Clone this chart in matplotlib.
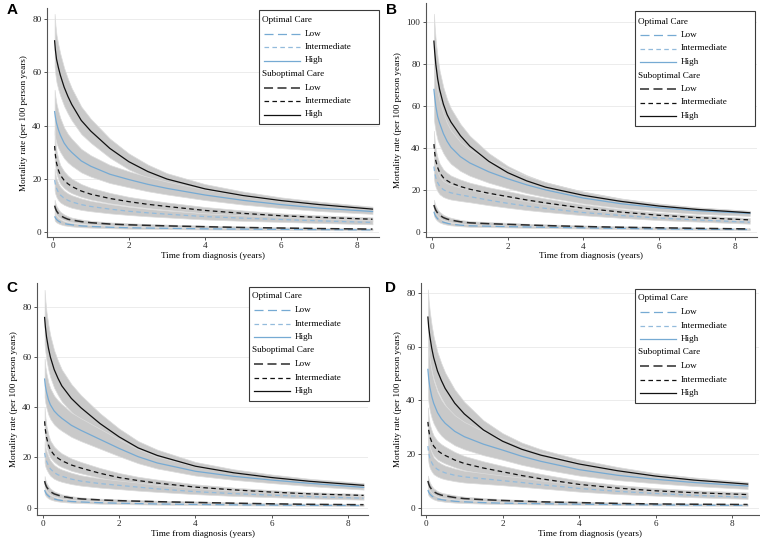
import matplotlib
matplotlib.use("Agg")
import matplotlib.pyplot as plt
from matplotlib.lines import Line2D
from matplotlib.patches import Rectangle

W, H = 760, 547

# years since diagnosis
t = [0.05, 0.07, 0.1, 0.15, 0.2, 0.3, 0.4, 0.5, 0.75, 1, 1.5, 2, 2.5, 3, 4, 5, 6, 7, 8.4]

# ---- panel A ----
A_sub_high = [71.9, 68.5, 65, 61.8, 59, 54.5, 51, 48, 42, 38, 31.5, 26.5, 22.8, 20, 16.3, 13.8, 11.9, 10.4, 8.7]
A_sub_high_lo = [62.2, 59.3, 56.3, 53.5, 51.2, 47.4, 44.5, 42, 36.9, 33.6, 28, 23.6, 20.4, 17.9, 14.7, 12.4, 10.7, 9.4, 7.8]
A_sub_high_hi = [82, 78, 74, 70.3, 67, 61.7, 57.6, 54.1, 47.2, 42.6, 35.2, 29.6, 25.4, 22.2, 18.1, 15.3, 13.1, 11.5, 9.6]
A_opt_high = [45.3, 43.3, 41, 38.5, 36.5, 33.5, 31.5, 30, 26.8, 24.8, 21.8, 19.8, 18, 16.5, 14, 12, 10.4, 9.1, 7.8]
A_opt_high_lo = [36.7, 35.2, 33.5, 31.6, 30.1, 27.8, 26.2, 25, 22.5, 20.9, 18.5, 16.9, 15.4, 14.2, 12.1, 10.4, 9.1, 8, 6.9]
A_opt_high_hi = [53.5, 51, 48.3, 45.3, 42.9, 39.3, 36.9, 35.1, 31.3, 28.9, 25.3, 22.9, 20.8, 19, 16.1, 13.7, 11.8, 10.3, 8.7]
A_sub_int = [32.4, 29, 26, 23.3, 21.5, 19.5, 18.2, 17.2, 15.5, 14.3, 12.7, 11.5, 10.5, 9.7, 8.2, 7.1, 6.2, 5.6, 4.9]
A_sub_int_lo = [27.2, 24.4, 21.9, 19.7, 18.2, 16.6, 15.5, 14.7, 13.3, 12.3, 10.9, 9.9, 9.1, 8.4, 7.1, 6.2, 5.4, 4.9, 4.3]
A_sub_int_hi = [38.3, 34.2, 30.6, 27.4, 25.2, 22.9, 21.3, 20.1, 18.1, 16.7, 14.8, 13.3, 12.2, 11.2, 9.5, 8.2, 7.1, 6.4, 5.6]
A_opt_int = [19.6, 18, 16.5, 15, 14, 12.8, 12, 11.4, 10.4, 9.7, 8.7, 7.9, 7.3, 6.8, 5.9, 5.3, 4.8, 4.3, 3.7]
A_opt_int_lo = [15.7, 14.4, 13.2, 12, 11.2, 10.3, 9.7, 9.2, 8.4, 7.9, 7.1, 6.5, 6, 5.6, 4.8, 4.3, 3.9, 3.5, 3]
A_opt_int_hi = [24, 22, 20.1, 18.3, 17.1, 15.6, 14.6, 13.9, 12.7, 11.8, 10.6, 9.6, 8.8, 8.2, 7.1, 6.4, 5.8, 5.2, 4.5]
A_sub_low = [10, 9, 8, 7, 6.3, 5.5, 4.9, 4.6, 4, 3.6, 3.1, 2.8, 2.6, 2.4, 2.1, 1.8, 1.6, 1.4, 1.2]
A_sub_low_lo = [8, 7.3, 6.5, 5.7, 5.2, 4.6, 4.1, 3.8, 3.3, 3, 2.6, 2.3, 2.15, 2, 1.7, 1.5, 1.3, 1.15, 1]
A_sub_low_hi = [12.2, 11, 9.8, 8.6, 7.7, 6.7, 6, 5.5, 4.8, 4.3, 3.7, 3.4, 3.1, 2.9, 2.5, 2.2, 1.9, 1.7, 1.4]
A_opt_low = [6, 5.4, 4.8, 4.2, 3.8, 3.3, 3, 2.8, 2.4, 2.2, 1.9, 1.7, 1.6, 1.5, 1.3, 1.2, 1.1, 1, 0.9]
A_opt_low_lo = [4.5, 4.1, 3.7, 3.3, 3, 2.6, 2.4, 2.2, 1.9, 1.75, 1.5, 1.35, 1.28, 1.2, 1.05, 0.95, 0.88, 0.8, 0.72]
A_opt_low_hi = [7.8, 7, 6.2, 5.4, 4.9, 4.2, 3.8, 3.5, 3, 2.75, 2.4, 2.15, 2, 1.85, 1.6, 1.48, 1.35, 1.23, 1.1]

# ---- panel B ----
B_sub_high = [91, 86, 80, 73, 68, 61, 56, 52.5, 46, 41, 33.8, 28.4, 24.5, 21.5, 17.6, 14.7, 12.5, 10.9, 9.3]
B_sub_high_lo = [80, 75.5, 70.3, 64.3, 60, 54, 49.6, 46.6, 41, 36.6, 30.3, 25.6, 22.2, 19.5, 16, 13.4, 11.4, 10, 8.5]
B_sub_high_hi = [104, 98, 91, 83, 77, 69, 63.2, 59, 51.6, 45.9, 37.7, 31.6, 27.2, 23.8, 19.4, 16.1, 13.7, 11.9, 10.2]
B_opt_high = [68, 64.5, 60, 55, 52, 47, 43.3, 40.5, 36, 33, 28.8, 25.5, 22.6, 20.2, 16.3, 13.6, 11.7, 10.3, 9.0]
B_opt_high_lo = [53.7, 51, 47.6, 43.8, 41.5, 37.6, 34.8, 32.6, 29.2, 26.9, 23.6, 21, 18.7, 16.8, 13.7, 11.5, 10, 8.8, 7.8]
B_opt_high_hi = [82.3, 78, 72.5, 66.3, 62.6, 56.5, 51.9, 48.5, 43, 39.4, 34.3, 30.3, 26.8, 23.9, 19.2, 16, 13.5, 11.8, 10.2]
B_sub_int = [42, 38, 34, 30.8, 28.5, 26, 24.6, 23.5, 21.8, 20.5, 18.6, 17, 15.4, 14, 11.5, 9.6, 8.1, 7, 5.9]
B_sub_int_lo = [36.1, 32.7, 29.2, 26.5, 24.5, 22.4, 21.2, 20.2, 18.7, 17.6, 16, 14.6, 13.2, 12, 9.9, 8.3, 7.1, 6.2, 5.2]
B_sub_int_hi = [48.3, 43.7, 39.1, 35.4, 32.8, 29.9, 28.3, 27, 25.1, 23.6, 21.4, 19.6, 17.7, 16.1, 13.2, 11, 9.3, 8.1, 6.8]
B_opt_int = [31.3, 28.5, 26, 23.6, 22, 20.3, 19.4, 18.8, 17.8, 17, 15.3, 13.8, 12.5, 11.4, 9.4, 8, 6.8, 5.9, 4.8]
B_opt_int_lo = [25.7, 23.4, 21.3, 19.4, 18.1, 16.8, 16.1, 15.6, 14.9, 14.3, 12.9, 11.7, 10.6, 9.7, 8.1, 6.9, 5.8, 5.1, 4.1]
B_opt_int_hi = [37.9, 34.5, 31.4, 28.5, 26.5, 24.4, 23.3, 22.6, 21.3, 20.3, 18.2, 16.4, 14.8, 13.4, 11, 9.3, 7.9, 6.8, 5.6]
B_sub_low = [13, 11.8, 10.5, 9.1, 8.2, 7, 6.3, 5.8, 5, 4.5, 4.1, 3.8, 3.5, 3.2, 2.75, 2.4, 2.15, 1.9, 1.6]
B_sub_low_lo = [10.7, 9.7, 8.6, 7.5, 6.8, 5.8, 5.2, 4.8, 4.2, 3.8, 3.45, 3.2, 2.95, 2.7, 2.3, 2.05, 1.83, 1.6, 1.36]
B_sub_low_hi = [15.5, 14, 12.5, 10.8, 9.7, 8.3, 7.5, 6.9, 5.9, 5.3, 4.85, 4.5, 4.1, 3.8, 3.25, 2.85, 2.55, 2.25, 1.9]
B_opt_low = [9.8, 8.6, 7.5, 6.4, 5.6, 4.8, 4.3, 3.9, 3.4, 3.1, 2.9, 2.7, 2.55, 2.4, 2.1, 1.85, 1.6, 1.45, 1.3]
B_opt_low_lo = [8, 7.1, 6.2, 5.3, 4.7, 4, 3.6, 3.3, 2.9, 2.6, 2.45, 2.3, 2.15, 2, 1.8, 1.55, 1.35, 1.22, 1.1]
B_opt_low_hi = [12, 10.5, 9.1, 7.8, 6.7, 5.7, 5.1, 4.6, 4, 3.7, 3.4, 3.2, 3, 2.85, 2.5, 2.2, 1.9, 1.7, 1.55]

# ---- panel C ----
C_sub_high = [75.7, 72, 68, 63.5, 60, 55, 51.5, 48.5, 43.5, 39.8, 33.5, 28.2, 23.8, 20.8, 16.5, 13.9, 12, 10.5, 8.9]
C_sub_high_lo = [65.1, 62, 58.6, 54.8, 51.9, 47.7, 44.8, 42.3, 38.1, 35, 29.6, 25.1, 21.3, 18.7, 14.9, 12.6, 10.9, 9.6, 8.1]
C_sub_high_hi = [86.7, 82.4, 77.8, 72.6, 68.5, 62.6, 58.5, 55, 49.2, 44.8, 37.6, 31.5, 26.5, 23.1, 18.2, 15.3, 13.2, 11.5, 9.8]
C_opt_high = [51.2, 48.5, 46, 43, 41, 38.5, 36.9, 35.6, 32.8, 30.8, 27.2, 23.6, 20.3, 17.8, 14.5, 12.5, 11, 9.7, 8.1]
C_opt_high_lo = [44, 41.7, 39.6, 37, 35.3, 33.1, 31.7, 30.6, 28.2, 26.5, 23.5, 20.5, 17.7, 15.6, 12.8, 11.1, 9.8, 8.6, 7.2]
C_opt_high_hi = [59.4, 56.2, 53.3, 49.8, 47.5, 44.6, 42.7, 41.2, 37.9, 35.6, 31.4, 27.2, 23.3, 20.3, 16.4, 14.1, 12.3, 10.9, 9.1]
C_sub_int = [34.4, 31, 28, 25, 23, 21, 19.7, 18.7, 17, 15.8, 13.7, 12, 10.8, 9.8, 8.2, 7.1, 6.2, 5.5, 4.9]
C_sub_int_lo = [29.8, 26.8, 24.2, 21.6, 19.9, 18.2, 17, 16.2, 14.7, 13.7, 11.9, 10.4, 9.3, 8.5, 7.1, 6.2, 5.4, 4.8, 4.3]
C_sub_int_hi = [39.9, 36, 32.5, 29, 26.7, 24.3, 22.8, 21.6, 19.6, 18.2, 15.8, 13.8, 12.3, 11.2, 9.3, 8, 7, 6.2, 5.5]
C_opt_int = [21.8, 20, 18.5, 16.8, 15.5, 14, 13.1, 12.5, 11.4, 10.6, 9.6, 8.9, 8.2, 7.5, 6.4, 5.6, 5, 4.4, 3.8]
C_opt_int_lo = [17.9, 16.4, 15.2, 13.8, 12.7, 11.5, 10.8, 10.3, 9.4, 8.8, 8, 7.4, 6.8, 6.3, 5.4, 4.7, 4.2, 3.7, 3.2]
C_opt_int_hi = [26.5, 24.3, 22.5, 20.4, 18.8, 17, 15.9, 15.2, 13.9, 12.9, 11.7, 10.8, 10, 9.1, 7.8, 6.8, 6.1, 5.3, 4.6]
C_sub_low = [10.6, 9.4, 8.3, 7.2, 6.4, 5.5, 5, 4.5, 3.9, 3.5, 3.1, 2.8, 2.6, 2.4, 2.1, 1.8, 1.55, 1.35, 1.2]
C_sub_low_lo = [8.6, 7.7, 6.8, 5.9, 5.3, 4.5, 4.1, 3.7, 3.2, 2.9, 2.6, 2.3, 2.15, 2, 1.75, 1.5, 1.28, 1.12, 1]
C_sub_low_hi = [12.6, 11.2, 9.9, 8.6, 7.6, 6.5, 5.9, 5.3, 4.6, 4.1, 3.6, 3.3, 3.05, 2.8, 2.5, 2.1, 1.8, 1.6, 1.4]
C_opt_low = [7, 6.2, 5.4, 4.7, 4.1, 3.5, 3.1, 2.9, 2.5, 2.3, 2, 1.8, 1.65, 1.5, 1.3, 1.15, 1.05, 0.95, 0.85]
C_opt_low_lo = [5.5, 4.9, 4.3, 3.7, 3.3, 2.8, 2.5, 2.3, 2, 1.85, 1.6, 1.45, 1.32, 1.2, 1.05, 0.95, 0.85, 0.76, 0.7]
C_opt_low_hi = [8.6, 7.6, 6.6, 5.8, 5, 4.3, 3.8, 3.5, 3, 2.8, 2.4, 2.2, 2, 1.8, 1.6, 1.4, 1.3, 1.15, 1.05]

# ---- panel D ----
D_sub_high = [71.1, 67.5, 64, 59.5, 56, 51, 47.5, 44.5, 39, 35, 29, 24.8, 21.8, 19.6, 16.3, 13.8, 11.8, 10.3, 8.8]
D_sub_high_lo = [60.5, 57.5, 54.6, 50.9, 48, 43.8, 40.9, 38.4, 33.8, 30.5, 25.4, 21.8, 19.2, 17.4, 14.6, 12.4, 10.7, 9.3, 8]
D_sub_high_hi = [81.4, 77.2, 73.1, 67.9, 63.8, 58, 53.9, 50.4, 44.1, 39.5, 32.6, 27.8, 24.3, 21.8, 18, 15.2, 12.9, 11.3, 9.6]
D_opt_high = [51.6, 48.3, 45, 41.5, 39, 35.5, 33.2, 31.5, 28.5, 26.5, 23.7, 21.5, 19.2, 17.3, 14.2, 12.1, 10.6, 9.4, 8.1]
D_opt_high_lo = [41.3, 38.7, 36.1, 33.4, 31.4, 28.7, 26.9, 25.6, 23.3, 21.8, 19.6, 17.9, 16, 14.5, 12, 10.3, 9.1, 8.1, 7]
D_opt_high_hi = [63, 59, 54.9, 50.6, 47.5, 43.2, 40.3, 38.2, 34.5, 32, 28.5, 25.7, 22.9, 20.5, 16.7, 14.1, 12.3, 10.8, 9.3]
D_sub_int = [32, 29, 26.5, 24.5, 23, 21.3, 20.3, 19.5, 17.8, 16.5, 14.8, 13.4, 12, 10.8, 8.7, 7.3, 6.3, 5.6, 4.9]
D_sub_int_lo = [27, 24.5, 22.4, 20.7, 19.5, 18, 17.2, 16.5, 15.1, 14, 12.6, 11.4, 10.2, 9.2, 7.4, 6.3, 5.4, 4.8, 4.2]
D_sub_int_hi = [37.4, 33.9, 31, 28.7, 26.9, 24.9, 23.7, 22.8, 20.8, 19.3, 17.3, 15.6, 14, 12.6, 10.1, 8.5, 7.3, 6.5, 5.7]
D_opt_int = [23, 20.5, 18.5, 16.8, 15.5, 14.3, 13.6, 13, 12.1, 11.5, 10.8, 10.1, 9.4, 8.6, 7.2, 6.1, 5.3, 4.6, 3.9]
D_opt_int_lo = [18.4, 16.4, 14.8, 13.5, 12.5, 11.6, 11, 10.6, 9.9, 9.4, 8.9, 8.4, 7.8, 7.2, 6, 5.1, 4.5, 3.9, 3.3]
D_opt_int_hi = [28, 25, 22.5, 20.4, 18.8, 17.3, 16.4, 15.7, 14.6, 13.8, 12.9, 12, 11.2, 10.2, 8.5, 7.2, 6.3, 5.4, 4.6]
D_sub_low = [10, 8.9, 7.8, 6.8, 6, 5.2, 4.7, 4.4, 3.8, 3.4, 3, 2.7, 2.45, 2.2, 1.9, 1.6, 1.4, 1.3, 1.2]
D_sub_low_lo = [8.1, 7.2, 6.4, 5.6, 5, 4.3, 3.9, 3.6, 3.1, 2.8, 2.5, 2.2, 2, 1.8, 1.55, 1.3, 1.15, 1.05, 1]
D_sub_low_hi = [12, 10.7, 9.4, 8.1, 7.2, 6.2, 5.6, 5.3, 4.6, 4.1, 3.6, 3.2, 2.9, 2.6, 2.3, 1.9, 1.7, 1.55, 1.4]
D_opt_low = [6.6, 5.8, 5.1, 4.4, 3.9, 3.3, 3, 2.8, 2.4, 2.2, 1.9, 1.7, 1.6, 1.5, 1.3, 1.15, 1.05, 0.95, 0.85]
D_opt_low_lo = [5.1, 4.5, 4, 3.5, 3.1, 2.6, 2.4, 2.2, 1.9, 1.75, 1.5, 1.35, 1.28, 1.2, 1.05, 0.95, 0.85, 0.75, 0.7]
D_opt_low_hi = [8.4, 7.4, 6.4, 5.5, 4.8, 4.1, 3.7, 3.5, 3, 2.7, 2.35, 2.1, 1.95, 1.85, 1.6, 1.4, 1.3, 1.15, 1.05]

group_labels = ["Optimal Care", "Suboptimal Care"]
level_labels = ["Low", "Intermediate", "High"]

xticks = [0, 2, 4, 6, 8]
yticks_80 = [0, 20, 40, 60, 80]
yticks_100 = [0, 20, 40, 60, 80, 100]

BLUE = "#76aad3"
BLUE_LIGHT = "#93bbdc"
BAND = "#c9c9c9"
LONG = (6.5, 3.2)
SHORT = (3.3, 2.4)

# colour, linewidth, dashes (None = solid)
STYLE = {
    "opt_low": (BLUE, 0.9, LONG),
    "opt_int": (BLUE_LIGHT, 0.9, SHORT),
    "opt_high": (BLUE, 0.9, None),
    "sub_low": ("#2b2b2b", 1.1, LONG),
    "sub_int": ("#111111", 0.9, SHORT),
    "sub_high": ("#111111", 0.9, None),
}

plt.rcParams["font.family"] = ["Liberation Serif", "DejaVu Serif"]
plt.rcParams["lines.scale_dashes"] = False


def px_rect(left, top, right, bottom):
    return [left / W, 1 - bottom / H, (right - left) / W, (bottom - top) / H]


def draw_legend(fig, left, top):
    # Stata-like legend box, placed in figure pixels
    fx = lambda x: x / W
    fy = lambda y: 1 - y / H
    fig.add_artist(Rectangle((fx(left), fy(top + 114)), 120 / W, 114 / H,
                             transform=fig.transFigure, facecolor="white",
                             edgecolor="#3a3a3a", linewidth=0.8, zorder=5))
    keys = [["opt_low", "opt_int", "opt_high"], ["sub_low", "sub_int", "sub_high"]]
    row = 0
    for g, group in enumerate(group_labels):
        y = top + 10 + row * 13.5
        fig.text(fx(left + 3), fy(y), group, fontsize=6.6, va="center", ha="left", zorder=6)
        row += 1
        for k, lab in zip(keys[g], level_labels):
            y = top + 10 + row * 13.5
            col, lw, dash = STYLE[k]
            ln = Line2D([fx(left + 4.5), fx(left + 40.5)], [fy(y), fy(y)],
                        transform=fig.transFigure, color=col, linewidth=lw, zorder=6)
            if dash:
                ln.set_dashes(dash)
            fig.add_artist(ln)
            fig.text(fx(left + 46), fy(y), lab, fontsize=6.6, va="center", ha="left", zorder=6)
            row += 1


def draw_panel(fig, rect, letter, letter_xy, xlim, ylim, yticks, data, legend_xy):
    ax = fig.add_axes(rect)
    for k in ["sub_high", "opt_high", "sub_int", "opt_int", "sub_low", "opt_low"]:
        mid, lo, hi = data[k]
        ax.fill_between(t, lo, hi, facecolor=BAND, edgecolor="#dcdcdc", linewidth=0.5, zorder=2)
    for k in ["opt_high", "opt_int", "opt_low", "sub_high", "sub_int", "sub_low"]:
        col, lw, dash = STYLE[k]
        ln, = ax.plot(t, data[k][0], color=col, linewidth=lw, zorder=3)
        if dash:
            ln.set_dashes(dash)
    ax.set_xlim(*xlim)
    ax.set_ylim(*ylim)
    ax.set_xticks(xticks)
    ax.set_yticks(yticks)
    ax.grid(axis="y", color="#ececec", linewidth=0.7, zorder=0)
    ax.set_axisbelow(True)
    for s in ["top", "right"]:
        ax.spines[s].set_visible(False)
    for s in ["left", "bottom"]:
        ax.spines[s].set_color("#555555")
        ax.spines[s].set_linewidth(0.8)
    ax.tick_params(length=2.3, width=0.7, color="#555555", labelsize=6.6, pad=1.5,
                   labelcolor="#222222")
    ax.set_xlabel("Time from diagnosis (years)", fontsize=6.6, labelpad=1)
    ax.set_ylabel("Mortality rate (per 100 person years)", fontsize=6.6, labelpad=3)
    fig.text(letter_xy[0] / W, 1 - letter_xy[1] / H, letter, fontsize=11, fontweight="bold",
             family="Liberation Sans", ha="center", va="center")
    draw_legend(fig, *legend_xy)
    return ax


panel_A = {
    "sub_high": (A_sub_high, A_sub_high_lo, A_sub_high_hi),
    "opt_high": (A_opt_high, A_opt_high_lo, A_opt_high_hi),
    "sub_int": (A_sub_int, A_sub_int_lo, A_sub_int_hi),
    "opt_int": (A_opt_int, A_opt_int_lo, A_opt_int_hi),
    "sub_low": (A_sub_low, A_sub_low_lo, A_sub_low_hi),
    "opt_low": (A_opt_low, A_opt_low_lo, A_opt_low_hi),
}
panel_B = {
    "sub_high": (B_sub_high, B_sub_high_lo, B_sub_high_hi),
    "opt_high": (B_opt_high, B_opt_high_lo, B_opt_high_hi),
    "sub_int": (B_sub_int, B_sub_int_lo, B_sub_int_hi),
    "opt_int": (B_opt_int, B_opt_int_lo, B_opt_int_hi),
    "sub_low": (B_sub_low, B_sub_low_lo, B_sub_low_hi),
    "opt_low": (B_opt_low, B_opt_low_lo, B_opt_low_hi),
}
panel_C = {
    "sub_high": (C_sub_high, C_sub_high_lo, C_sub_high_hi),
    "opt_high": (C_opt_high, C_opt_high_lo, C_opt_high_hi),
    "sub_int": (C_sub_int, C_sub_int_lo, C_sub_int_hi),
    "opt_int": (C_opt_int, C_opt_int_lo, C_opt_int_hi),
    "sub_low": (C_sub_low, C_sub_low_lo, C_sub_low_hi),
    "opt_low": (C_opt_low, C_opt_low_lo, C_opt_low_hi),
}
panel_D = {
    "sub_high": (D_sub_high, D_sub_high_lo, D_sub_high_hi),
    "opt_high": (D_opt_high, D_opt_high_lo, D_opt_high_hi),
    "sub_int": (D_sub_int, D_sub_int_lo, D_sub_int_hi),
    "opt_int": (D_opt_int, D_opt_int_lo, D_opt_int_hi),
    "sub_low": (D_sub_low, D_sub_low_lo, D_sub_low_hi),
    "opt_low": (D_opt_low, D_opt_low_lo, D_opt_low_hi),
}

if __name__ == "__main__":
    fig = plt.figure(figsize=(W / 100, H / 100), dpi=100)
    draw_panel(fig, px_rect(46.7, 8.3, 379, 237), "A", (12.5, 10), (-0.158, 8.571), (-1.77, 84.1),
               yticks_80, panel_A, (259, 10))
    draw_panel(fig, px_rect(425.7, 3.3, 756.7, 237.3), "B", (391.5, 10), (-0.167, 8.583), (-2.38, 109),
               yticks_100, panel_B, (635, 11.5))
    draw_panel(fig, px_rect(36.7, 283.3, 368.3, 515), "C", (12, 288), (-0.157, 8.524), (-2.9, 89.3),
               yticks_80, panel_C, (249, 286.5))
    draw_panel(fig, px_rect(420.7, 283.3, 759.3, 515), "D", (390, 288), (-0.138, 8.705), (-2.72, 83.7),
               yticks_80, panel_D, (635, 288.5))
    fig.savefig("out.png", dpi=100)
